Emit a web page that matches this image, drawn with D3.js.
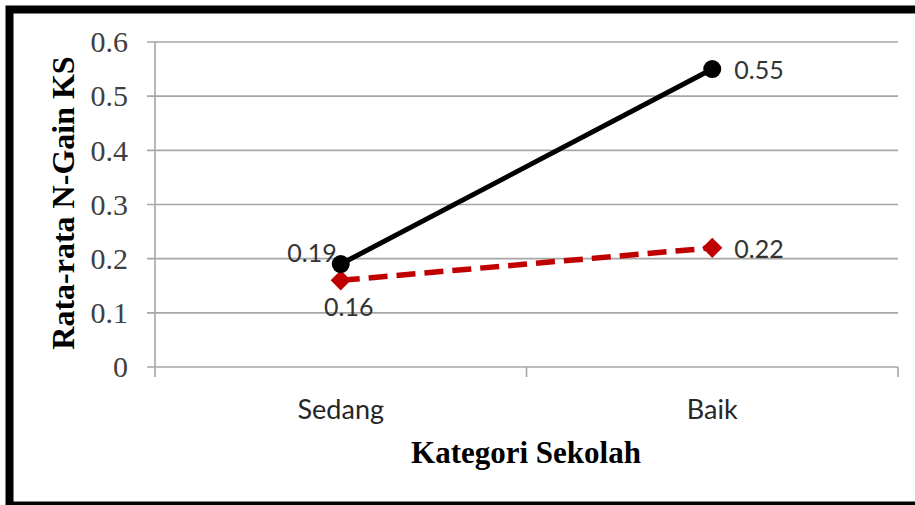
<!DOCTYPE html>
<html><head><meta charset="utf-8">
<script src="https://cdn.jsdelivr.net/npm/d3@7"></script>
<style>html,body{margin:0;padding:0;background:#fff;}svg{display:block;}</style>
</head><body>
<svg id="chart" width="915" height="505"></svg>
<script>
const categories = ["Sedang", "Baik"];
const seriesBlack = [0.19, 0.55];
const seriesRed = [0.16, 0.22];
const yTicks = [0, 0.1, 0.2, 0.3, 0.4, 0.5, 0.6];
const yTickLabels = ["0", "0.1", "0.2", "0.3", "0.4", "0.5", "0.6"];
const yTitle = "Rata-rata N-Gain KS";
const xTitle = "Kategori Sekolah";

(function () {
const svg = d3.select("#chart");
const W = 915;
const pLeft = 155, pRight = 898, pTop = 42, pBottom = 367;

// outer frame
svg.append("rect").attr("x", 9.5).attr("y", 9.5).attr("width", W + 20).attr("height", 496)
  .attr("fill", "#fff").attr("stroke", "#000").attr("stroke-width", 8);

const x = d3.scaleBand().domain(categories).range([pLeft, pRight]).paddingInner(0).paddingOuter(0);
const y = d3.scaleLinear().domain([0, 0.6]).range([pBottom, pTop]);

// gridlines + y ticks
svg.append("g").selectAll("line").data(yTicks).join("line")
  .attr("x1", pLeft - 8).attr("x2", pRight)
  .attr("y1", d => y(d)).attr("y2", d => y(d))
  .attr("stroke", "#a6a6a6").attr("stroke-width", 1.6);

// y axis line
svg.append("line").attr("x1", pLeft).attr("x2", pLeft).attr("y1", pTop).attr("y2", pBottom)
  .attr("stroke", "#a6a6a6").attr("stroke-width", 1.6);

// x ticks at band edges
const edges = categories.map(c => x(c)).concat([x(categories[categories.length - 1]) + x.bandwidth()]);
svg.append("g").selectAll("line").data(edges).join("line")
  .attr("x1", d => d).attr("x2", d => d).attr("y1", pBottom).attr("y2", pBottom + 10)
  .attr("stroke", "#a6a6a6").attr("stroke-width", 1.6);

// y tick labels
svg.append("g").selectAll("text").data(yTicks).join("text")
  .attr("x", 128).attr("y", d => y(d)).attr("dy", "0.34em")
  .attr("text-anchor", "end")
  .attr("font-family", "'Liberation Serif', 'Times New Roman', serif")
  .attr("font-size", 30).attr("fill", "#404040")
  .text((d, i) => yTickLabels[i]);

// x category labels
svg.append("g").selectAll("text").data(categories).join("text")
  .attr("x", d => x(d) + x.bandwidth() / 2).attr("y", 419)
  .attr("text-anchor", "middle")
  .attr("font-family", "Lato, sans-serif")
  .attr("font-size", 27).attr("fill", "#262626")
  .text(d => d);

// axis titles
svg.append("text").attr("x", 526).attr("y", 463).attr("text-anchor", "middle")
  .attr("font-family", "'Liberation Serif', 'Times New Roman', serif").attr("font-weight", "bold")
  .attr("font-size", 31).attr("fill", "#000").text(xTitle);

svg.append("text").attr("transform", "translate(74,203) rotate(-90)").attr("text-anchor", "middle")
  .attr("font-family", "'Liberation Serif', 'Times New Roman', serif").attr("font-weight", "bold")
  .attr("font-size", 32).attr("fill", "#000").text(yTitle);

const cx = c => x(c) + x.bandwidth() / 2;
const line = d3.line().x(d => cx(d.c)).y(d => y(d.v));
const blackData = categories.map((c, i) => ({c, v: seriesBlack[i]}));
const redData = categories.map((c, i) => ({c, v: seriesRed[i]}));

// red dashed
svg.append("path").attr("d", line(redData)).attr("fill", "none")
  .attr("stroke", "#c00000").attr("stroke-width", 5.5).attr("stroke-dasharray", "19,9");
svg.append("g").selectAll("path").data(redData).join("path")
  .attr("d", d3.symbol().type(d3.symbolDiamond2).size(260))
  .attr("transform", d => `translate(${cx(d.c)},${y(d.v)})`)
  .attr("fill", "#c00000");

// black solid
svg.append("path").attr("d", line(blackData)).attr("fill", "none")
  .attr("stroke", "#000").attr("stroke-width", 5);
svg.append("g").selectAll("circle").data(blackData).join("circle")
  .attr("cx", d => cx(d.c)).attr("cy", d => y(d.v)).attr("r", 9).attr("fill", "#000");

// data labels
function lbl(xp, yp, t, anchor) {
  svg.append("text").attr("x", xp).attr("y", yp).attr("text-anchor", anchor)
    .attr("font-family", "Lato, sans-serif").attr("font-size", 25).attr("fill", "#333").text(t);
}
lbl(cx(categories[0]) - 4, y(seriesBlack[0]) - 2, seriesBlack[0].toFixed(2), "end");
lbl(cx(categories[0]) + 8, y(seriesRed[0]) + 36, seriesRed[0].toFixed(2), "middle");
lbl(cx(categories[1]) + 22, y(seriesBlack[1]) + 10, seriesBlack[1].toFixed(2), "start");
lbl(cx(categories[1]) + 22, y(seriesRed[1]) + 10, seriesRed[1].toFixed(2), "start");
})();
</script>
</body></html>
